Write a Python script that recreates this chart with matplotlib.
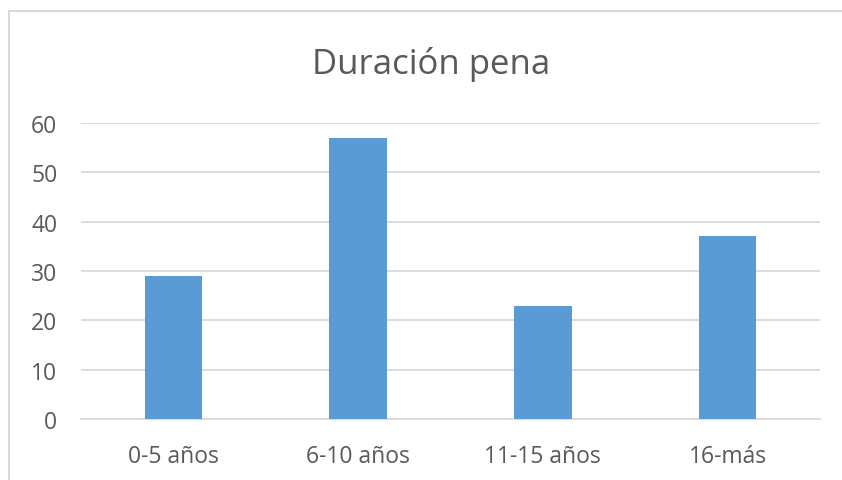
import matplotlib
matplotlib.use("Agg")
import matplotlib.pyplot as plt
from matplotlib.patches import Rectangle

categorias = ["0-5 años", "6-10 años", "11-15 años", "16-más"]
valores = [29, 57, 23, 37]
yticks = [0, 10, 20, 30, 40, 50, 60]

plt.rcParams['font.family'] = ['Open Sans', 'DejaVu Sans']

fig = plt.figure(figsize=(8.42, 4.81), dpi=100)
ax = fig.add_axes([81/842, 1 - 420/481, (820 - 81)/842, (420 - 124)/481])

# borde del gráfico (recortado a la derecha y abajo)
fig.patches.append(Rectangle((9/842, -0.05), 1.1, 1 - 12/481 + 0.05,
                             transform=fig.transFigure, fill=False,
                             edgecolor='#D9D9D9', linewidth=1.5))

x = range(len(categorias))
ax.bar(x, valores, width=0.31, color='#5B9BD5', zorder=3)

ax.set_xlim(-0.5, len(categorias) - 0.5)
ax.set_ylim(0, 60)
ax.set_yticks(yticks)
ax.set_xticks(list(x))
ax.set_xticklabels(categorias)
ax.grid(axis='y', color='#D9D9D9', linewidth=1.3, zorder=0)
for s in ['top', 'right', 'left']:
    ax.spines[s].set_visible(False)
ax.spines['bottom'].set_color('#D9D9D9')
ax.spines['bottom'].set_linewidth(1.3)
ax.tick_params(axis='both', length=0, colors='#595959', labelsize=16.5)
ax.tick_params(axis='y', pad=17)
ax.tick_params(axis='x', pad=18)

fig.text(431/842, 1 - 64/481, "Duración pena", ha='center', va='center',
         fontsize=25, color='#595959')

fig.savefig("out.png", dpi=100)
